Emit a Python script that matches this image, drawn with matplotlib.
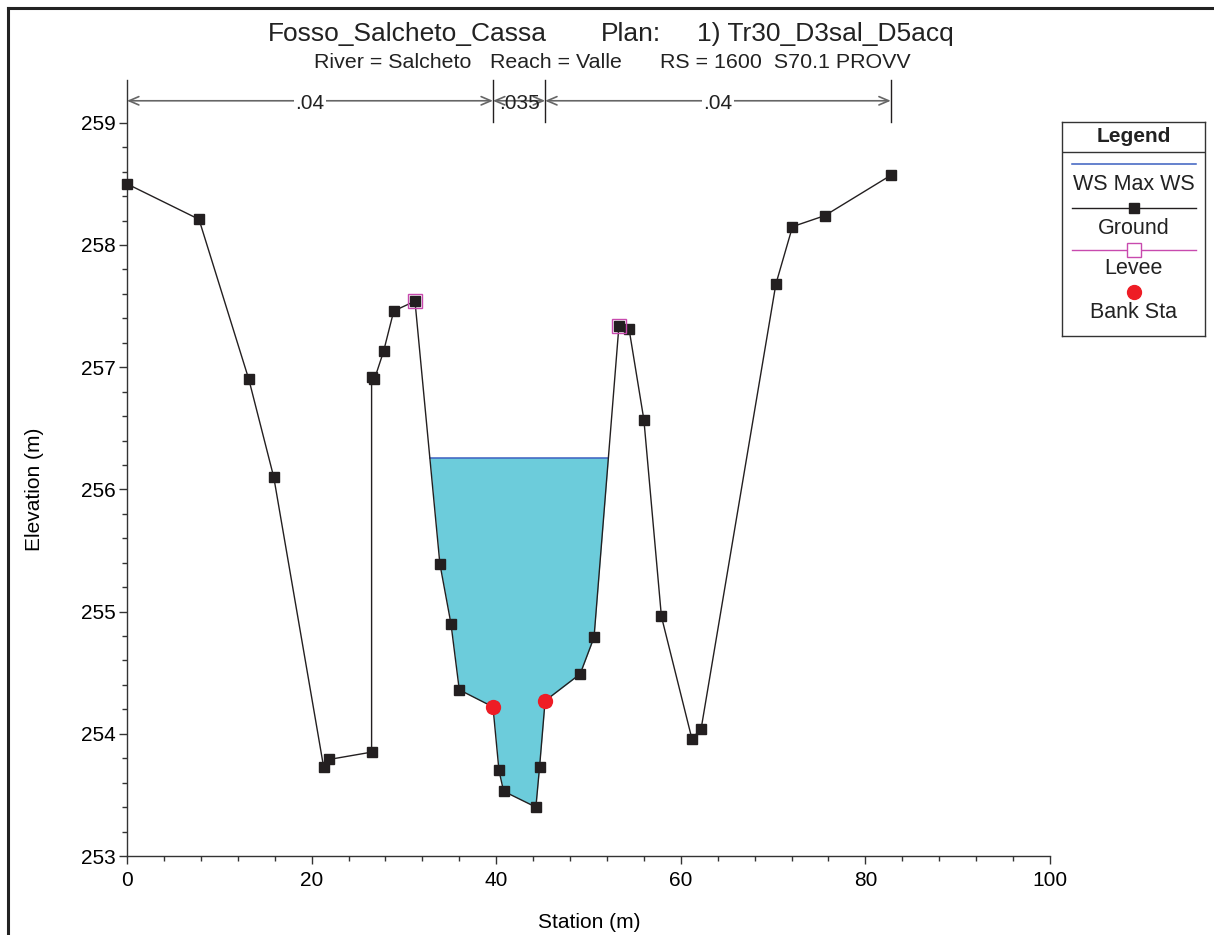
import numpy as np
import matplotlib
matplotlib.use("Agg")
import matplotlib.pyplot as plt
from matplotlib.lines import Line2D

plt.rcParams['font.family'] = ['Liberation Sans', 'DejaVu Sans']

# ---------------- data ----------------
station = [0.0, 7.8, 13.2, 15.9, 21.3, 21.9, 26.5, 26.5, 26.8, 27.8, 28.9, 31.2,
           33.9, 35.1, 36.0, 39.65, 40.3, 40.8, 44.3, 44.7, 45.3, 49.1, 50.6,
           53.3, 54.4, 56.0, 57.9, 61.2, 62.2, 70.3, 72.1, 75.6, 82.75]
elevation = [258.50, 258.21, 256.90, 256.10, 253.73, 253.79, 253.85, 256.92, 256.90,
             257.13, 257.46, 257.54, 255.39, 254.90, 254.36, 254.22, 253.70, 253.53,
             253.40, 253.73, 254.27, 254.49, 254.79, 257.34, 257.31, 256.57, 254.96,
             253.96, 254.04, 257.68, 258.15, 258.24, 258.57]
levee_sta = [31.2, 53.3]
levee_elev = [257.54, 257.34]
bank_sta = [39.65, 45.3]
bank_elev = [254.22, 254.27]
ws_elev = 256.26
n_breaks = [0.0, 39.65, 45.3, 82.75]
n_values = [".04", ".035", ".04"]

title_parts = ["Fosso_Salcheto_Cassa", "Plan:", "1) Tr30_D3sal_D5acq"]
subtitle_parts = ["River = Salcheto", "Reach = Valle", "RS = 1600  S70.1 PROVV"]
legend_labels = ["WS Max WS", "Ground", "Levee", "Bank Sta"]

# ---------------- colours ----------------
GROUND = "#231F20"
WATER = "#6CCCDB"
WSLINE = "#3A5FC0"
LEVEE = "#C84AAE"
BANK = "#EE1C25"

W, H = 1214, 935
fig = plt.figure(figsize=(W / 100, H / 100), dpi=100)
fig.patch.set_facecolor("white")

def fx(px):
    return px / W

def fy(py):
    return 1 - py / H

ax = fig.add_axes([fx(127), fy(856), fx(1050) - fx(127), fy(80) - fy(856)])
ax.set_xlim(0, 100)
ax.set_ylim(253, 259.35)

x = np.array(station)
y = np.array(elevation)

# water fill between levees
i0 = station.index(levee_sta[0])
i1 = station.index(levee_sta[1])
xs = x[i0:i1 + 1]
ys = y[i0:i1 + 1]
ax.fill_between(xs, ys, ws_elev, where=ys < ws_elev, interpolate=True,
                color=WATER, linewidth=0, zorder=1)
xl = np.interp(ws_elev, [ys[1], ys[0]], [xs[1], xs[0]])
xr = np.interp(ws_elev, [ys[-2], ys[-1]], [xs[-2], xs[-1]])
ax.plot([xl, xr], [ws_elev, ws_elev], color=WSLINE, lw=1.1, zorder=2)

ax.plot(x, y, color=GROUND, lw=1.0, marker="s", ms=6.5, mfc=GROUND, mec=GROUND,
        zorder=3, clip_on=False)
ax.plot(levee_sta, levee_elev, ls="none", marker="s", ms=10, mfc="none", mec=LEVEE,
        mew=1.0, zorder=4)
ax.plot(bank_sta, bank_elev, ls="none", marker="o", ms=10, mfc=BANK, mec=BANK, zorder=5)

# spines / ticks
for s in ["top", "right"]:
    ax.spines[s].set_visible(False)
for s in ["left", "bottom"]:
    ax.spines[s].set_color("#333333")
    ax.spines[s].set_linewidth(1.0)
ax.set_xticks([0, 20, 40, 60, 80, 100])
ax.set_xticks(np.arange(0, 101, 4), minor=True)
ax.set_yticks([253, 254, 255, 256, 257, 258, 259])
ax.set_yticks(np.arange(253, 259.01, 0.2), minor=True)
ax.tick_params(axis="both", which="major", length=6, width=1.0, color="#333333",
               labelsize=15, pad=2)
ax.tick_params(axis="x", which="major", pad=5)
ax.tick_params(axis="both", which="minor", length=3.5, width=1.0, color="#333333")
ax.set_xlabel("Station (m)", fontsize=15)
ax.xaxis.set_label_coords(0.5005, -0.073)
ax.set_ylabel("Elevation (m)", fontsize=15)
ax.yaxis.set_label_coords(-0.090, 0.472)

# Manning's n bar
ny = 259.18
for k in range(len(n_values)):
    a, b = n_breaks[k], n_breaks[k + 1]
    ax.annotate("", xy=(a, ny), xytext=(b, ny),
                arrowprops=dict(arrowstyle="<->,head_length=0.7,head_width=0.3",
                                color="#666666", lw=1.2, shrinkA=0, shrinkB=0),
                annotation_clip=False, zorder=2)
    ax.text((a + b) / 2, ny - 0.02, n_values[k], fontsize=15, ha="center", va="center",
            color="#222222", zorder=3,
            bbox=dict(facecolor="white", edgecolor="none", pad=1.0) if k != 1 else None)
for b in n_breaks[1:]:
    ax.plot([b, b], [259.01, 259.35], color=GROUND, lw=1.0, clip_on=False, zorder=3)

# titles
TS = 19
fig.text(fx(268), fy(34), title_parts[0], fontsize=TS, ha="left", va="center", color="#222222")
fig.text(fx(601), fy(34), title_parts[1], fontsize=TS, ha="left", va="center", color="#222222")
fig.text(fx(697), fy(34), title_parts[2], fontsize=TS, ha="left", va="center", color="#222222")
SS = 15.4
fig.text(fx(314), fy(63), subtitle_parts[0], fontsize=SS, ha="left", va="center", color="#222222")
fig.text(fx(490), fy(63), subtitle_parts[1], fontsize=SS, ha="left", va="center", color="#222222")
fig.text(fx(660), fy(63), subtitle_parts[2], fontsize=SS, ha="left", va="center", color="#222222")

# frame lines (left & top)
fig.add_artist(Line2D([fx(8), fx(8)], [0, fy(8)], color="#222222", lw=2.2))
fig.add_artist(Line2D([fx(8), 1], [fy(8), fy(8)], color="#222222", lw=2.2))

# legend box
lx0, ly0, lx1, ly1 = 1062, 122, 1205, 336
lax = fig.add_axes([fx(lx0), fy(ly1), fx(lx1) - fx(lx0), fy(ly0) - fy(ly1)])
lax.set_xlim(0, lx1 - lx0)
lax.set_ylim(ly1 - ly0, 0)
lax.set_xticks([])
lax.set_yticks([])
for s in lax.spines.values():
    s.set_color("#333333")
    s.set_linewidth(1.0)
lax.text(71.5, 14, "Legend", fontsize=15, fontweight="bold", ha="center", va="center", color="#222222")
lax.axhline(30, color="#333333", lw=1.0)
lax.plot([10, 134], [42, 42], color=WSLINE, lw=1.1)
lax.text(71.5, 63, legend_labels[0], fontsize=15.5, ha="center", va="center", color="#222222")
lax.plot([10, 134], [86, 86], color=GROUND, lw=1.0)
lax.plot([71.5], [86], marker="s", ms=6.5, color=GROUND)
lax.text(71.5, 106, legend_labels[1], fontsize=15.5, ha="center", va="center", color="#222222")
lax.plot([10, 134], [128, 128], color=LEVEE, lw=1.0)
lax.plot([71.5], [128], marker="s", ms=10, mfc="white", mec=LEVEE, mew=1.0)
lax.text(71.5, 147, legend_labels[2], fontsize=15.5, ha="center", va="center", color="#222222")
lax.plot([71.5], [170], marker="o", ms=10, color=BANK)
lax.text(71.5, 190, legend_labels[3], fontsize=15.5, ha="center", va="center", color="#222222")

fig.savefig("out.png", dpi=100, facecolor="white")
